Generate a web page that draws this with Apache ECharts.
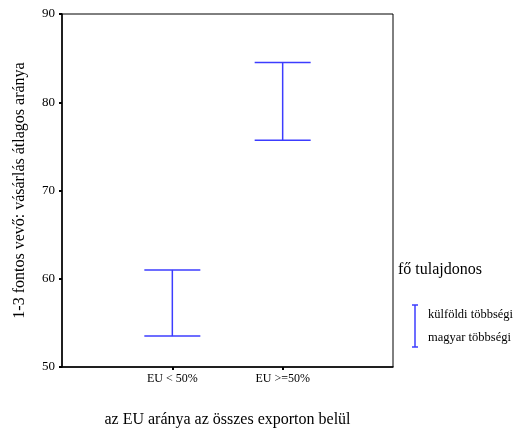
<!DOCTYPE html>
<html>
<head>
<meta charset="utf-8">
<script src="https://cdn.jsdelivr.net/npm/echarts@6/dist/echarts.min.js"></script>
<style>html,body{margin:0;padding:0;background:#fff}#c{width:515px;height:428px}</style>
</head>
<body>
<div id="c"></div>
<script>
const categories = ['', 'EU < 50%', 'EU >=50%', ''];
const lowValues = [53.5, 75.7];
const highValues = [61.0, 84.5];
const barCategories = ['EU < 50%', 'EU >=50%'];
const yTicks = [50, 60, 70, 80, 90];
const legendTitle = 'fő tulajdonos';
const legendLabels = ['külföldi többségi', 'magyar többségi'];
const xTitle = 'az EU aránya az összes exporton belül';
const yTitle = '1-3 fontos vevő: vásárlás átlagos aránya';

const FONT = '"Liberation Serif", "DejaVu Serif", serif';
const BLUE = '#3c3cff';

const data = barCategories.map((c, i) => [categories.indexOf(c), lowValues[i], highValues[i]]);

const chart = echarts.init(document.getElementById('c'), null, {renderer: 'canvas'});
chart.setOption({
  animation: false,
  backgroundColor: '#fff',
  grid: {left: 62, top: 14, right: 122, bottom: 61, show: true, borderColor: '#000', borderWidth: 1, backgroundColor: 'transparent', containLabel: false, outerBoundsMode: 'none'},
  xAxis: {
    type: 'category',
    data: categories,
    boundaryGap: false,
    name: xTitle,
    nameLocation: 'middle',
    nameGap: 45,
    nameTextStyle: {fontFamily: FONT, fontSize: 16, color: '#000'},
    axisLine: {lineStyle: {color: '#000', width: 1.5}},
    axisTick: {show: true, length: 3, lineStyle: {color: '#000', width: 2}, interval: (i) => i === 1 || i === 2},
    axisLabel: {fontFamily: FONT, fontSize: 12, color: '#000', margin: 6, interval: (i) => i === 1 || i === 2},
    splitLine: {show: false}
  },
  yAxis: {
    type: 'value',
    min: yTicks[0],
    max: yTicks[yTicks.length - 1],
    interval: 10,
    name: yTitle,
    nameLocation: 'middle',
    nameGap: 34,
    nameTextStyle: {fontFamily: FONT, fontSize: 16, color: '#000'},
    axisLine: {show: true, lineStyle: {color: '#000', width: 1.5}},
    axisTick: {show: true, length: 3, lineStyle: {color: '#000', width: 2}},
    axisLabel: {fontFamily: FONT, fontSize: 13, color: '#000', margin: 7},
    splitLine: {show: false}
  },
  series: [{
    type: 'custom',
    data: data,
    encode: {x: 0, y: [1, 2]},
    renderItem: function (params, api) {
      const x = api.value(0);
      const lo = api.coord([x, api.value(1)]);
      const hi = api.coord([x, api.value(2)]);
      const hw = 28;
      const style = {stroke: BLUE, lineWidth: 1.5, fill: null};
      return {
        type: 'group',
        children: [
          {type: 'line', shape: {x1: lo[0], y1: lo[1], x2: hi[0], y2: hi[1]}, style: style},
          {type: 'line', shape: {x1: lo[0] - hw, y1: lo[1], x2: lo[0] + hw, y2: lo[1]}, style: style},
          {type: 'line', shape: {x1: hi[0] - hw, y1: hi[1], x2: hi[0] + hw, y2: hi[1]}, style: style}
        ]
      };
    }
  }],
  graphic: [
    {type: 'text', left: 398, top: 262, style: {text: legendTitle, font: '16px ' + FONT, fill: '#000'}},
    {type: 'line', shape: {x1: 415, y1: 305, x2: 415, y2: 347}, style: {stroke: BLUE, lineWidth: 1.5}},
    {type: 'line', shape: {x1: 412, y1: 305, x2: 418, y2: 305}, style: {stroke: BLUE, lineWidth: 1.5}},
    {type: 'line', shape: {x1: 412, y1: 347, x2: 418, y2: 347}, style: {stroke: BLUE, lineWidth: 1.5}},
    {type: 'text', left: 428, top: 308, style: {text: legendLabels[0], font: '12.5px ' + FONT, fill: '#000'}},
    {type: 'text', left: 428, top: 331, style: {text: legendLabels[1], font: '12.5px ' + FONT, fill: '#000'}}
  ]
});
</script>
</body>
</html>
